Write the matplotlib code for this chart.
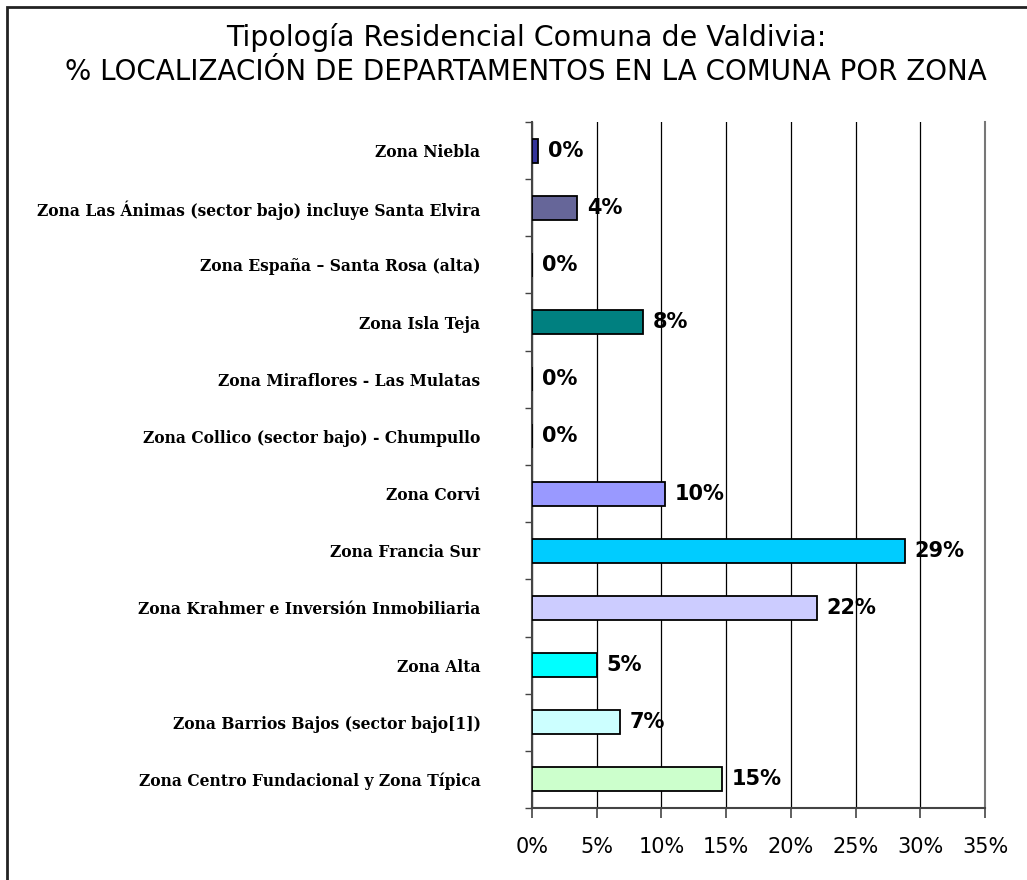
import numpy as np
import matplotlib
matplotlib.use("Agg")
import matplotlib.pyplot as plt
from matplotlib.patches import Rectangle

# --- Data (top to bottom as in the chart) ---
zonas = [
    "Zona Niebla",
    "Zona Las Ánimas (sector bajo) incluye Santa Elvira",
    "Zona España – Santa Rosa (alta)",
    "Zona Isla Teja",
    "Zona Miraflores - Las Mulatas",
    "Zona Collico (sector bajo) - Chumpullo",
    "Zona Corvi",
    "Zona Francia Sur",
    "Zona Krahmer e Inversión Inmobiliaria",
    "Zona Alta",
    "Zona Barrios Bajos (sector bajo[1])",
    "Zona Centro Fundacional y Zona Típica",
]
porcentajes = [0.45, 3.5, 0.0, 8.6, 0.0, 0.0, 10.3, 28.8, 22.0, 5.0, 6.8, 14.7]
etiquetas = ["0%", "4%", "0%", "8%", "0%", "0%", "10%", "29%", "22%", "5%", "7%", "15%"]
colores = ["#333399", "#666699", "#666699", "#008080", "#993366", "#993366",
           "#9999FF", "#00CCFF", "#CCCCFF", "#00FFFF", "#CCFFFF", "#CCFFCC"]
x_ticks = [0, 5, 10, 15, 20, 25, 30, 35]

W, H = 1027, 880
fig = plt.figure(figsize=(W / 100, H / 100), dpi=100)
ax = fig.add_axes([532 / W, 1 - 808 / H, (985 - 532) / W, (808 - 122) / H])

# outer frame of the chart (cut off at right/bottom)
fig.patches.append(Rectangle((7 / W, -0.1), 1.2, 1 - 6.5 / H + 0.1,
                             transform=fig.transFigure, fill=False,
                             edgecolor="#222222", linewidth=2, zorder=0))

y = np.arange(len(zonas))
ax.barh(y, porcentajes, height=0.42, color=colores, edgecolor="black",
        linewidth=1.3, zorder=3)

for yi, v, lab in zip(y, porcentajes, etiquetas):
    ax.text(v + 0.75, yi, lab, va="center", ha="left", fontsize=15,
            fontweight="bold", family="DejaVu Sans", zorder=4)

ax.set_ylim(len(zonas) - 0.5, -0.5)
ax.set_xlim(0, 35)
ax.set_yticks(y)
ax.set_yticklabels(zonas, family="DejaVu Serif", fontweight="bold", fontsize=11.2)
ax.set_yticks(np.arange(-0.5, len(zonas), 1), minor=True)
ax.tick_params(axis="y", which="major", length=0, pad=37)
ax.tick_params(axis="y", which="minor", length=5, width=1, color="#444444")

ax.set_xticks(x_ticks)
ax.set_xticklabels([f"{t}%" for t in x_ticks], family="DejaVu Sans", fontsize=15)
ax.tick_params(axis="x", length=7, width=1.2, color="#444444", pad=14)

ax.grid(axis="x", color="black", linewidth=0.9, zorder=0)
ax.axvline(35, color="#777777", linewidth=1.5, clip_on=False, zorder=1)
ax.set_axisbelow(True)
for s in ["top", "right"]:
    ax.spines[s].set_visible(False)
for s in ["left", "bottom"]:
    ax.spines[s].set_color("#444444")
    ax.spines[s].set_linewidth(1.5)

fig.text(526 / W, 1 - 37 / H, "Tipología Residencial Comuna de Valdivia:",
         ha="center", va="center", fontsize=20.5, family="DejaVu Sans")
fig.text(526 / W, 1 - 72 / H, "% LOCALIZACIÓN DE DEPARTAMENTOS EN LA COMUNA POR ZONA",
         ha="center", va="center", fontsize=20.0, family="DejaVu Sans")

fig.savefig("out.png", dpi=100)
